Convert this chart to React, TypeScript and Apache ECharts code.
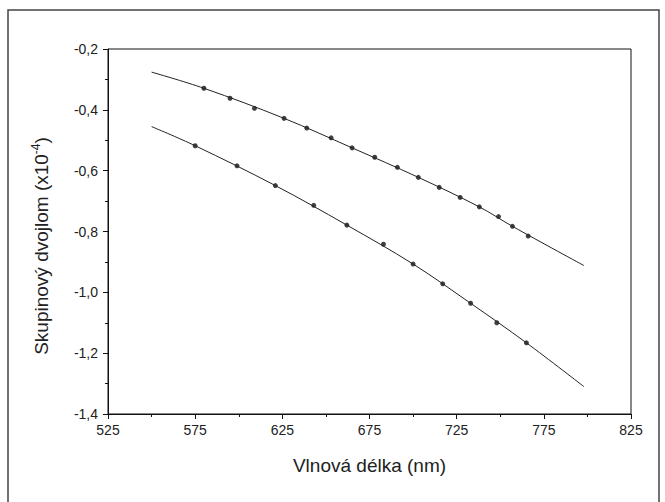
import React, { useEffect, useRef } from "react";
import * as echarts from "echarts";

// Measured data points (upper series)
const xUpper = [580, 595, 609, 626, 639, 653, 665, 678, 691, 703, 715, 727, 738, 749, 757, 766];
const yUpper = [-0.329, -0.362, -0.395, -0.428, -0.46, -0.492, -0.525, -0.556, -0.589, -0.622, -0.655, -0.688, -0.719, -0.751, -0.783, -0.815];

// Measured data points (lower series)
const xLower = [575, 599, 621, 643, 662, 683, 700, 717, 733, 748, 765];
const yLower = [-0.518, -0.584, -0.649, -0.714, -0.779, -0.842, -0.907, -0.972, -1.036, -1.1, -1.166];

// Fitted curves
const fitUpperX = [550, 580, 626, 665, 703, 738, 757, 798];
const fitUpperY = [-0.276, -0.329, -0.428, -0.525, -0.622, -0.719, -0.783, -0.912];
const fitLowerX = [550, 575, 621, 662, 700, 733, 765, 798];
const fitLowerY = [-0.455, -0.518, -0.649, -0.779, -0.907, -1.036, -1.166, -1.31];

// Axis ranges / tick steps
const xMin = 525, xMax = 825, xStep = 50;
const yMin = -1.4, yMax = -0.2, yStep = 0.2;

const xTitle = "Vlnová délka (nm)";
const yTitleMain = "Skupinový dvojlom (x10";
const yTitleSup = "-4";
const yTitleEnd = ")";

const zip = (xs: number[], ys: number[]) => xs.map((x, i) => [x, ys[i]]);

export default function App() {
  const ref = useRef<HTMLDivElement>(null);
  useEffect(() => {
    if (!ref.current) return;
    const chart = echarts.init(ref.current, undefined, { renderer: "svg" });
    const font = "Liberation Sans, Arial, sans-serif";
    chart.setOption({
      animation: false,
      backgroundColor: "#fff",
      grid: {
        left: 108,
        right: 34,
        top: 49,
        bottom: 88,
        show: true,
        borderColor: "#111",
        borderWidth: 1,
      },
      xAxis: {
        type: "value",
        min: xMin,
        max: xMax,
        interval: xStep,
        name: xTitle,
        nameLocation: "middle",
        nameGap: 42,
        nameTextStyle: { fontFamily: font, fontSize: 19, color: "#222" },
        axisLine: { show: true, lineStyle: { color: "#111", width: 1 } },
        axisTick: { show: true, length: 5, lineStyle: { color: "#111" } },
        minorTick: { show: true, splitNumber: 2, length: 3, lineStyle: { color: "#111" } },
        splitLine: { show: false },
        axisLabel: { fontFamily: font, fontSize: 14, color: "#222", margin: 9 },
      },
      yAxis: {
        type: "value",
        min: yMin,
        max: yMax,
        interval: yStep,
        axisLine: { show: true, lineStyle: { color: "#111", width: 1 } },
        axisTick: { show: true, length: 5, lineStyle: { color: "#111" } },
        minorTick: { show: true, splitNumber: 2, length: 3, lineStyle: { color: "#111" } },
        splitLine: { show: false },
        axisLabel: {
          fontFamily: font,
          fontSize: 14,
          color: "#222",
          margin: 10,
          formatter: (v: number) => v.toFixed(1).replace(".", ","),
        },
      },
      graphic: [
        {
          type: "rect",
          shape: { x: 8, y: 10, width: 651, height: 520 },
          style: { fill: "none", stroke: "#444", lineWidth: 1.5 },
          silent: true,
        },
        {
          type: "text",
          x: 41,
          y: 246,
          rotation: Math.PI / 2,
          style: {
            text: `{a|${yTitleMain}}{s|${yTitleSup}}{a|${yTitleEnd}}`,
            align: "center",
            verticalAlign: "middle",
            fill: "#222",
            rich: {
              a: { fontFamily: font, fontSize: 19, lineHeight: 22, fill: "#222", color: "#222" },
              s: { fontFamily: font, fontSize: 12, lineHeight: 12, verticalAlign: "top", fill: "#222", color: "#222" },
            },
          },
        },
      ],
      series: [
        {
          type: "line",
          data: zip(fitUpperX, fitUpperY),
          smooth: 0.35,
          showSymbol: false,
          lineStyle: { color: "#222", width: 1 },
          silent: true,
        },
        {
          type: "line",
          data: zip(fitLowerX, fitLowerY),
          smooth: 0.35,
          showSymbol: false,
          lineStyle: { color: "#222", width: 1 },
          silent: true,
        },
        {
          type: "scatter",
          data: zip(xUpper, yUpper),
          symbolSize: 5,
          itemStyle: { color: "#111" },
        },
        {
          type: "scatter",
          data: zip(xLower, yLower),
          symbolSize: 5,
          itemStyle: { color: "#111" },
        },
      ],
    });
    return () => chart.dispose();
  }, []);
  return (
    <div
      ref={ref}
      style={{ position: "absolute", left: 0, top: 0, width: 665, height: 502, background: "#fff" }}
    />
  );
}
